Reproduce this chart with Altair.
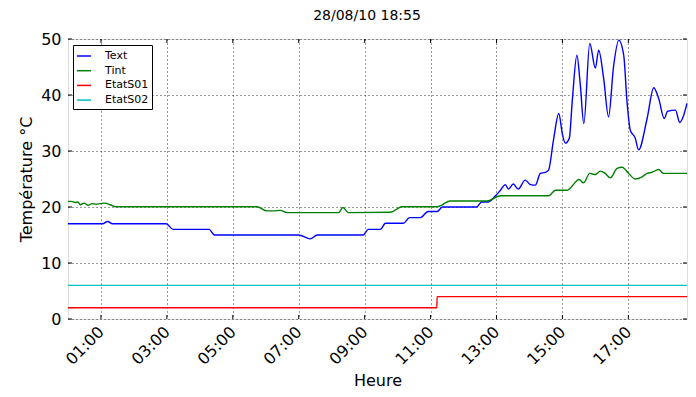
import altair as alt
import pandas as pd

# ---- data (hours since 00:00, temperature) ----
text_h = [0, 1.05, 1.2, 1.35, 2.98, 3.19, 4.28, 4.44, 7.0, 7.35, 7.56, 8.96, 9.11, 9.48, 9.63,
          10.18, 10.36, 10.69, 10.93, 11.2, 11.36, 12.4, 12.55, 12.75, 12.97, 13.12, 13.27,
          13.36, 13.51, 13.66, 13.87, 14.03, 14.18, 14.33, 14.48, 14.58, 14.73, 14.89, 15.0,
          15.09, 15.21, 15.30, 15.44, 15.54, 15.65, 15.83, 16.0, 16.1, 16.25, 16.40, 16.55,
          16.71, 16.86, 16.96, 17.06, 17.21, 17.31, 17.57, 17.77, 17.92, 18.09, 18.19, 18.43,
          18.56, 18.68, 18.78]
text_v = [17, 17, 17.4, 17, 17, 16, 16, 15, 15, 14.3, 15, 15, 16, 16, 17.1,
          17.1, 18.1, 18.1, 19.2, 19.2, 20, 20, 20.9, 20.9, 22, 23, 24,
          23.2, 24.1, 23.2, 24.8, 24, 23.9, 26, 26.2, 26.6, 32, 36.7, 33,
          31.4, 32.3, 39, 47.1, 42, 34.9, 49.2, 44.8, 48, 43, 36.1, 45,
          49.8, 47.1, 38.8, 33.7, 32.3, 30.2, 35.8, 41.3, 39.4, 35.8, 37.1, 37.3,
          35.1, 36.4, 38.5]

tint_h = [0, 0.1, 0.22, 0.3, 0.37, 0.49, 0.61, 0.73, 0.85, 0.98, 1.13, 1.28, 1.46, 5.73, 6.04,
          6.25, 6.44, 6.64, 8.21, 8.34, 8.51, 9.78, 10.13, 11.2, 11.6, 12.71, 13.12, 14.58,
          14.79, 15.14, 15.51, 15.64, 15.83, 16.0, 16.15, 16.30, 16.45, 16.66, 16.81, 17.01,
          17.21, 17.42, 17.57, 17.72, 17.92, 18.07, 18.78]
tint_v = [21.0, 21.0, 20.8, 20.9, 20.4, 20.7, 20.3, 20.6, 20.5, 20.6, 20.7, 20.4, 20.05, 20.05, 19.3,
          19.3, 19.4, 19.0, 19.0, 19.9, 19.0, 19.05, 20.05, 20.05, 21.07, 21.07, 22.0, 22.0,
          23.0, 23.0, 24.9, 24.3, 26.0, 25.8, 26.4, 26.0, 25.2, 26.9, 27.1, 26.0,
          25.0, 25.4, 26.0, 26.2, 26.7, 26.0, 26.0]

s01_h = [0, 11.19, 11.2, 18.78]
s01_v = [2, 2, 4, 4]

s02_h = [0, 18.78]
s02_v = [6, 6]

series = ["Text", "Tint", "EtatS01", "EtatS02"]
colors = ["#0000ff", "#008000", "#ff0000", "#00bfbf"]

xtick_hours = [1, 3, 5, 7, 9, 11, 13, 15, 17]
ytick_values = [0, 10, 20, 30, 40, 50]
x_max = 18.78
title_text = ["28/08/10 18:55"]

rows = []
for name, hs, vs in [("Text", text_h, text_v), ("Tint", tint_h, tint_v),
                     ("EtatS01", s01_h, s01_v), ("EtatS02", s02_h, s02_v)]:
    for i, (h, v) in enumerate(zip(hs, vs)):
        rows.append({"serie": name, "h": h, "v": v, "i": i})
df = pd.DataFrame(rows)

W, H = 619, 280

xscale = alt.Scale(domain=[0, x_max], nice=False, zero=False)
yscale = alt.Scale(domain=[0, 50], nice=False)

label_expr = "(datum.value < 10 ? '0' : '') + datum.value + ':00'"

lines = alt.Chart(df).mark_line(strokeWidth=1.4, interpolate="monotone").encode(
    x=alt.X("h:Q", scale=xscale,
            axis=alt.Axis(values=xtick_hours, labelExpr=label_expr, labelAngle=-45,
                          labelAlign="right", labelBaseline="middle", labelPadding=10,
                          ticks=False, grid=True, gridDash=[1, 3], gridColor="#000",
                          gridWidth=0.8, domain=False, labelFontSize=16,
                          labelFont="DejaVu Sans", labelColor="#000",
                          title="Heure", titleFontSize=16, titleFont="DejaVu Sans",
                          titleFontWeight="normal", titleColor="#000",
                          titleY=53, titleBaseline="top")),
    y=alt.Y("v:Q", scale=yscale,
            axis=alt.Axis(values=ytick_values, ticks=False, grid=True, gridDash=[1, 3],
                          gridColor="#000", gridWidth=0.8, domain=False, labelFontSize=16,
                          labelFont="DejaVu Sans", labelColor="#000", labelPadding=7,
                          title="Température °C", titleFontSize=16, titleFont="DejaVu Sans",
                          titleFontWeight="normal", titleColor="#000",
                          titleX=-42, titleY=140, titleAlign="center", titleBaseline="middle")),
    color=alt.Color("serie:N", scale=alt.Scale(domain=series, range=colors), sort=series,
                    legend=alt.Legend(title=None, orient="none", legendX=5, legendY=6,
                                      strokeColor="#000", fillColor="#fff", padding=3,
                                      symbolType="stroke", symbolSize=200,
                                      symbolStrokeWidth=1.5, labelFontSize=11,
                                      labelFont="DejaVu Sans", labelColor="#000",
                                      labelOffset=13, rowPadding=1.7, cornerRadius=0)),
    order="i:Q",
)

xt = pd.DataFrame({"h": xtick_hours})
yt = pd.DataFrame({"v": ytick_values})

xt_bottom = alt.Chart(xt).mark_rule(color="#000", strokeWidth=1).encode(
    x=alt.X("h:Q", scale=xscale), y=alt.value(H), y2=alt.value(H - 4))
xt_top = alt.Chart(xt).mark_rule(color="#000", strokeWidth=1).encode(
    x=alt.X("h:Q", scale=xscale), y=alt.value(0), y2=alt.value(4))
yt_left = alt.Chart(yt).mark_rule(color="#000", strokeWidth=1).encode(
    y=alt.Y("v:Q", scale=yscale), x=alt.value(0), x2=alt.value(4))
yt_right = alt.Chart(yt).mark_rule(color="#000", strokeWidth=1).encode(
    y=alt.Y("v:Q", scale=yscale), x=alt.value(W), x2=alt.value(W - 4))

title_mark = alt.Chart(pd.DataFrame({"t": title_text})).mark_text(
    fontSize=14, font="DejaVu Sans", color="#000", align="center", baseline="alphabetic"
).encode(text="t:N", x=alt.value(299), y=alt.value(-19))

chart = alt.layer(lines, xt_bottom, xt_top, yt_left, yt_right, title_mark).properties(
    width=W, height=H,
    autosize=alt.AutoSizeParams(type="none"),
    padding={"left": 60, "top": 31, "right": 1, "bottom": 70},
).configure_view(stroke="#000", strokeWidth=1.2).configure(background="#fff")

chart.save("out.html", embed_options={"renderer": "svg", "actions": False})
